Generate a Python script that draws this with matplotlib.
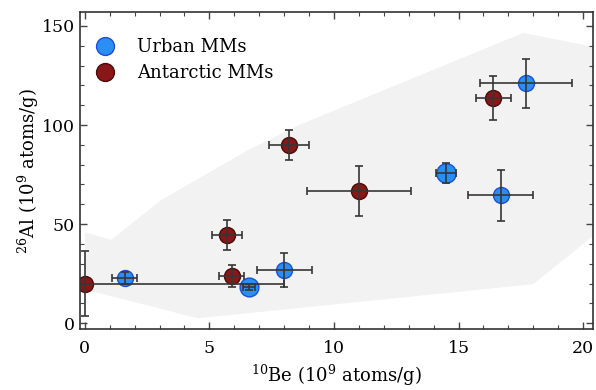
import numpy as np
import matplotlib
matplotlib.use('Agg')
import matplotlib.pyplot as plt
from matplotlib.ticker import MultipleLocator

# urban micrometeorites
urban_be = [1.6, 6.6, 8.0, 14.5, 16.7, 17.7]
urban_be_err = [0.5, 0.25, 1.1, 0.4, 1.3, 1.85]
urban_al = [23.0, 18.2, 27.0, 76.0, 64.5, 121.0]
urban_al_err = [3.0, 1.5, 8.5, 5.0, 12.7, 12.5]

# antarctic micrometeorites
ant_be = [0.0, 5.7, 5.9, 8.2, 11.0, 16.4]
ant_be_err = [8.0, 0.6, 0.5, 0.8, 2.1, 0.7]
ant_al = [20.0, 44.5, 24.0, 90.0, 66.7, 113.6]
ant_al_err = [16.5, 7.5, 5.5, 7.5, 12.7, 11.0]

# model envelope (shaded region)
env_upper_x = [0.0, 1.05, 3.05, 6.5, 8.6, 17.6, 20.4]
env_upper_y = [46.0, 42.0, 62.0, 87.0, 100.0, 146.5, 139.5]
env_lower_x = [0.0, 4.55, 18.0, 20.4]
env_lower_y = [17.0, 2.5, 19.7, 44.0]


def main():
    plt.rcParams['font.family'] = 'DejaVu Serif'
    plt.rcParams['mathtext.fontset'] = 'dejavuserif'

    fig = plt.figure(figsize=(5.96, 3.90), dpi=100)
    ax = fig.add_axes([0.134, 0.156, 0.861, 0.813])

    poly_x = env_upper_x + env_lower_x[::-1]
    poly_y = env_upper_y + env_lower_y[::-1]
    ax.fill(poly_x, poly_y, color='#f2f2f2', lw=0, zorder=0)

    blue = '#2a8ef5'
    blue_edge = '#1c4fd8'
    red = '#8a1717'
    red_edge = '#4a0b0b'
    bar_color = '#363636'

    # two of the urban points are drawn a bit bigger in the original
    urban_ms = [11.5, 13.5, 11.5, 14.0, 11.5, 11.5]
    for i in range(len(urban_be)):
        ax.plot(urban_be[i], urban_al[i], 'o', ms=urban_ms[i], mfc=blue, mec=blue_edge,
                mew=1.0, ls='none', zorder=2, label='Urban MMs' if i == 0 else None)
    ax.plot(ant_be, ant_al, 'o', ms=11.5, mfc=red, mec=red_edge, mew=1.0,
            ls='none', label='Antarctic MMs', zorder=2)

    ax.errorbar(urban_be, urban_al, xerr=urban_be_err, yerr=urban_al_err, fmt='none',
                ecolor=bar_color, elinewidth=1.2, capsize=2.8, capthick=1.2, zorder=3)
    ax.errorbar(ant_be, ant_al, xerr=ant_be_err, yerr=ant_al_err, fmt='none',
                ecolor=bar_color, elinewidth=1.2, capsize=2.8, capthick=1.2, zorder=3)

    ax.set_xlim(-0.2, 20.4)
    ax.set_ylim(-3, 157)
    ax.xaxis.set_major_locator(MultipleLocator(5))
    ax.xaxis.set_minor_locator(MultipleLocator(1))
    ax.yaxis.set_major_locator(MultipleLocator(50))
    ax.yaxis.set_minor_locator(MultipleLocator(10))
    ax.tick_params(which='both', direction='in', top=True, right=True,
                   color='#444444', labelsize=12.5)
    ax.tick_params(which='major', length=5, width=1)
    ax.tick_params(which='minor', length=3, width=0.8)
    ax.tick_params(axis='x', pad=8)
    for s in ax.spines.values():
        s.set_color('#333333')
        s.set_linewidth(1.2)

    ax.set_xlabel(r'$^{10}$Be (10$^9$ atoms/g)', fontsize=13, labelpad=4)
    ax.set_ylabel(r'$^{26}$Al (10$^9$ atoms/g)', fontsize=13, labelpad=0.5)

    ax.legend(loc='upper left', bbox_to_anchor=(0.018, 0.94), borderaxespad=0,
              frameon=False, fontsize=13, handlelength=1.0, markerscale=1.12,
              handletextpad=1.25, labelspacing=0.45)

    fig.savefig('out.png', dpi=100)


if __name__ == '__main__':
    main()
